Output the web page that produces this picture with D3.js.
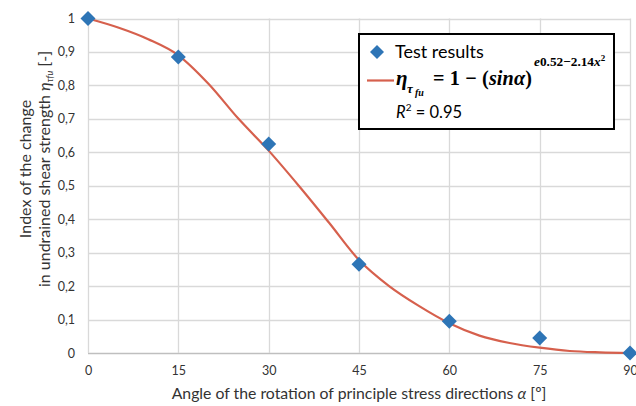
<!DOCTYPE html>
<html>
<head>
<meta charset="utf-8">
<script src="https://cdn.jsdelivr.net/npm/d3@7"></script>
<style>
  html, body { margin: 0; padding: 0; background: #fff; }
  svg { display: block; }
</style>
</head>
<body>
<svg id="chart" width="636" height="406"></svg>
<script>
// ---- data ----
const angles = [0, 15, 30, 45, 60, 75, 90];
const testResults = [1, 0.885, 0.625, 0.265, 0.095, 0.045, 0];
const curveAngles = [0, 5, 10, 15, 20, 25, 30, 35, 40, 45, 50, 55, 60, 65, 70, 75, 80, 85, 90];
const curveValues = [1, 0.973, 0.938, 0.89, 0.805, 0.70, 0.605, 0.50, 0.39, 0.278, 0.20, 0.14, 0.089, 0.052, 0.03, 0.016, 0.006, 0.002, 0];
const xTicks = [0, 15, 30, 45, 60, 75, 90];
const yTicks = [0, 0.1, 0.2, 0.3, 0.4, 0.5, 0.6, 0.7, 0.8, 0.9, 1];
const yTickLabels = ["0", "0,1", "0,2", "0,3", "0,4", "0,5", "0,6", "0,7", "0,8", "0,9", "1"];

// ---- layout ----
const svg = d3.select("#chart");
const L = 88, R = 630, T = 18.5, B = 353;
const x = d3.scaleLinear().domain([0, 90]).range([L, R]);
const y = d3.scaleLinear().domain([0, 1]).range([B, T]);
const FONT = "Lato, 'Open Sans', sans-serif";
const BLUE = "#2E75B6", RED = "#D6604D", TXT = "#333";

// gridlines
const g = svg.append("g");
g.selectAll("line.h").data(yTicks).enter().append("line")
  .attr("x1", L).attr("x2", R)
  .attr("y1", d => Math.round(y(d)) + 0.5).attr("y2", d => Math.round(y(d)) + 0.5)
  .attr("stroke", d => d === 0 ? "#bfbfbf" : "#d9d9d9").attr("stroke-width", 1.3);
g.selectAll("line.v").data(xTicks).enter().append("line")
  .attr("y1", T).attr("y2", B)
  .attr("x1", d => Math.round(x(d)) + 0.5).attr("x2", d => Math.round(x(d)) + 0.5)
  .attr("stroke", "#d9d9d9").attr("stroke-width", 1.3);

// axes (labels only)
const xAxis = d3.axisBottom(x).tickValues(xTicks).tickSize(0).tickPadding(13);
const xa = svg.append("g").attr("transform", `translate(0,${B})`).call(xAxis);
xa.select(".domain").remove();
xa.selectAll("text").attr("font-family", FONT).attr("font-size", 12.5).attr("fill", TXT);

const yAxis = d3.axisLeft(y).tickValues(yTicks).tickSize(0).tickPadding(13)
  .tickFormat((d, i) => yTickLabels[i]);
const ya = svg.append("g").attr("transform", `translate(${L},0)`).call(yAxis);
ya.select(".domain").remove();
ya.selectAll("text").attr("font-family", FONT).attr("font-size", 12.5).attr("fill", TXT);

// curve
const line = d3.line().x(d => x(d[0])).y(d => y(d[1])).curve(d3.curveMonotoneX);
svg.append("path")
  .datum(curveAngles.map((a, i) => [a, curveValues[i]]))
  .attr("d", line).attr("fill", "none").attr("stroke", RED).attr("stroke-width", 2.2);

// diamonds
const diamond = s => `M0,${-s}L${s},0L0,${s}L${-s},0Z`;
svg.selectAll("path.pt").data(angles.map((a, i) => [a, testResults[i]])).enter().append("path")
  .attr("d", diamond(7.5))
  .attr("transform", d => `translate(${x(d[0])},${y(d[1])})`)
  .attr("fill", BLUE);

// axis titles
svg.append("text").attr("x", 359).attr("y", 398.5).attr("text-anchor", "middle")
  .attr("font-family", FONT).attr("font-size", 15.8).attr("fill", TXT)
  .html("Angle of the rotation of principle stress directions <tspan font-style='italic'>α</tspan> [º]");

const yt = svg.append("text").attr("transform", "translate(0,169) rotate(-90)")
  .attr("text-anchor", "middle").attr("font-family", FONT).attr("font-size", 16).attr("fill", TXT);
yt.append("tspan").attr("x", 0).attr("y", 31).text("Index of the change");
const l2 = yt.append("tspan").attr("x", 0).attr("y", 50);
l2.append("tspan").text("in undrained shear strength ");
l2.append("tspan").attr("font-style", "italic").text("η");
l2.append("tspan").attr("font-style", "italic").attr("font-size", 9).attr("dy", 3).text("τfu");
l2.append("tspan").attr("dy", -3).text(" [-]");

// legend
const lg = svg.append("g");
lg.append("rect").attr("x", 359).attr("y", 34).attr("width", 255).attr("height", 95)
  .attr("fill", "#fff").attr("stroke", "#000").attr("stroke-width", 2);
lg.append("path").attr("d", diamond(7)).attr("transform", "translate(377,52)").attr("fill", BLUE);
lg.append("text").attr("x", 395).attr("y", 58).attr("font-family", FONT).attr("font-size", 18)
  .attr("fill", "#000").text("Test results");
lg.append("line").attr("x1", 367).attr("x2", 394).attr("y1", 80.5).attr("y2", 80.5)
  .attr("stroke", RED).attr("stroke-width", 2.2);
const SERIF = "'Liberation Serif', 'DejaVu Serif', serif";
const f = lg.append("g").attr("font-family", SERIF).attr("font-weight", "bold").attr("fill", "#000");
f.append("text").attr("x", 396).attr("y", 85).attr("font-size", 21).attr("font-style", "italic").text("η");
f.append("text").attr("x", 407).attr("y", 92.5).attr("font-size", 13).attr("font-style", "italic").text("τ");
f.append("text").attr("x", 415).attr("y", 96).attr("font-size", 10).attr("font-style", "italic").text("fu");
const m = f.append("text").attr("x", 433).attr("y", 85).attr("font-size", 20.2)
  .attr("textLength", 99).attr("lengthAdjust", "spacing");
m.append("tspan").text("= 1 − (");
m.append("tspan").attr("font-style", "italic").text("sinα");
m.append("tspan").text(")");
const ex = f.append("text").attr("x", 534).attr("y", 66).attr("font-size", 13.3);
ex.append("tspan").attr("font-style", "italic").text("e");
ex.append("tspan").text("0.52−2.14");
ex.append("tspan").attr("font-style", "italic").text("x");
ex.append("tspan").attr("font-size", 9).attr("dy", -5).text("2");
const r2 = lg.append("text").attr("x", 396).attr("y", 118).attr("font-family", FONT).attr("font-size", 16.5).attr("fill", "#000");
r2.append("tspan").attr("font-style", "italic").text("R");
r2.append("tspan").attr("font-size", 10).attr("dy", -7).text("2");
r2.append("tspan").attr("dy", 7).text(" = 0.95");
</script>
</body>
</html>
